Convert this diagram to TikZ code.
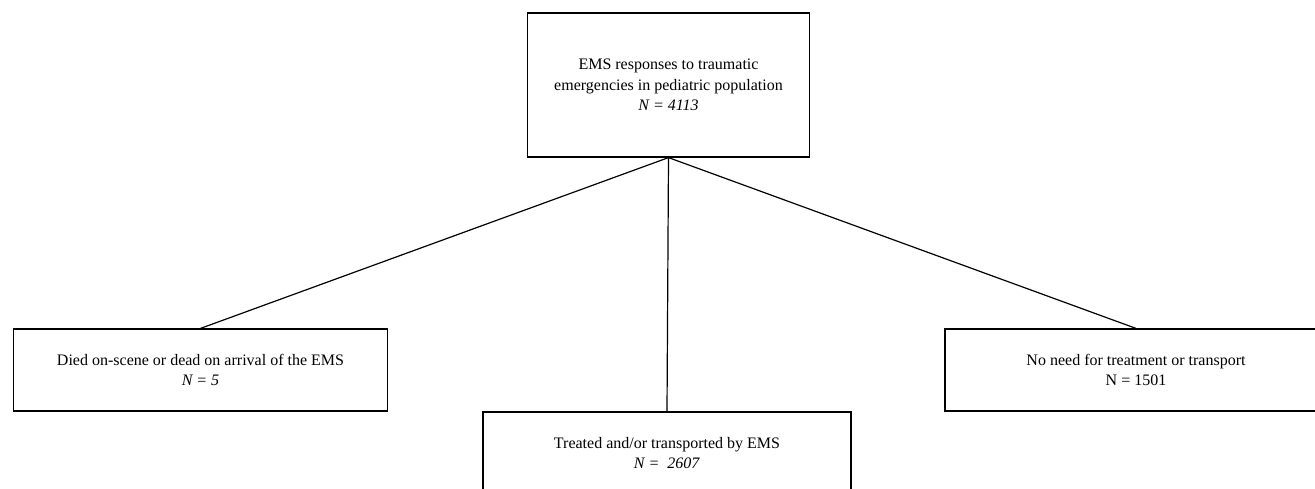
\documentclass[tikz,border=0pt]{standalone}
\usepackage{fontspec}
\setmainfont{Liberation Serif}

\begin{document}
\begin{tikzpicture}[x=0.75pt,y=-0.75pt,
    flowbox/.style={draw, line width=0.9pt, align=center, inner sep=0pt,
        font=\fontsize{12}{15.5}\selectfont}]

\useasboundingbox (0,0) rectangle (1315,489);
\clip (0,0) rectangle (1315,489);

\node (emsresp) [flowbox,
    minimum width=212pt,
    minimum height=108pt
] at (668.5,85) {EMS responses to traumatic\\emergencies in pediatric population\\\textit{N = 4113}};

\node (died) [flowbox,
    minimum width=281pt,
    minimum height=61.5pt
] at (200.5,370) {Died on-scene or dead on arrival of the EMS\\\textit{N = 5}};

\node (treated) [flowbox,
    minimum width=276pt,
    minimum height=61.5pt
] at (667,453) {Treated and/or transported by EMS\\\textit{N =~ 2607}};

\node (noneed) [flowbox,
    minimum width=286.5pt,
    minimum height=61.5pt
] at (1136,370) {No need for treatment or transport\\N = 1501};

% one line from the top box down to each outcome
\draw [line width=0.9pt] (emsresp.south) -- (died.north);
\draw [line width=0.9pt] (emsresp.south) -- (treated.north);
\draw [line width=0.9pt] (emsresp.south) -- (noneed.north);

\end{tikzpicture}
\end{document}
